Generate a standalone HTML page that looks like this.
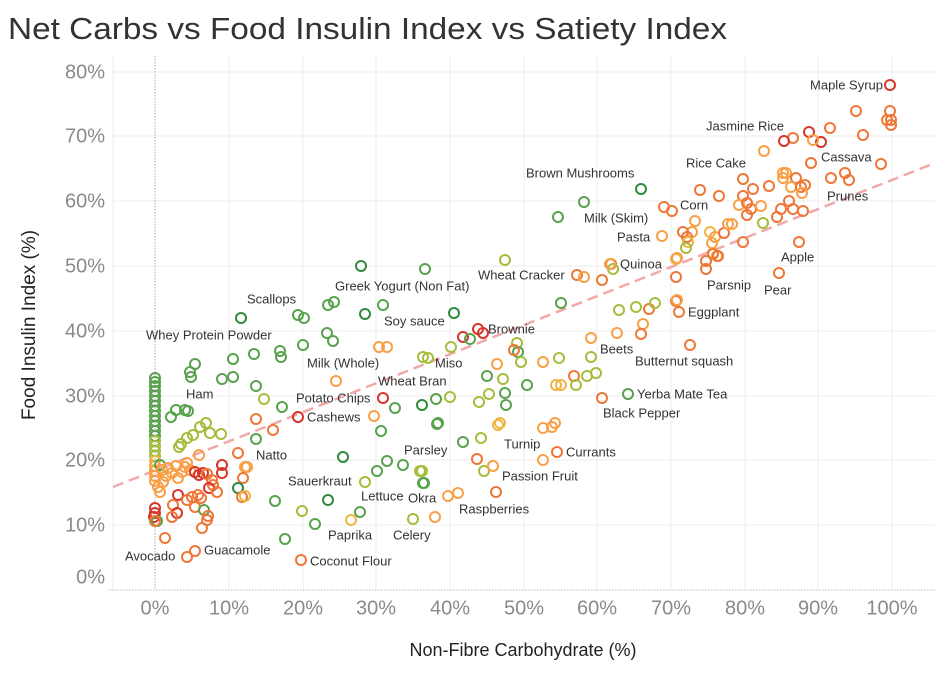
<!DOCTYPE html>
<html><head><meta charset="utf-8"><style>
html,body{margin:0;padding:0;background:#fff;}
svg{display:block;font-family:"Liberation Sans",sans-serif;}
.l{font-size:13px;fill:#333;dominant-baseline:middle}
.G{stroke:#2f8a3c}.g{stroke:#58a24e}.y{stroke:#a5bd3c}.Y{stroke:#f0b540}.o{stroke:#f9a047}.O{stroke:#ef7636}.R{stroke:#d7352b}
circle{fill:none;stroke-width:2}
</style></head><body>
<svg width="940" height="674" viewBox="0 0 940 674">
<text x="8" y="39" font-size="31" fill="#333" textLength="719" lengthAdjust="spacingAndGlyphs">Net Carbs vs Food Insulin Index vs Satiety Index</text>
<g stroke="#ededed" stroke-width="1">
<line x1="229" y1="56" x2="229" y2="590"/><line x1="303" y1="56" x2="303" y2="590"/><line x1="376" y1="56" x2="376" y2="590"/><line x1="450" y1="56" x2="450" y2="590"/><line x1="524" y1="56" x2="524" y2="590"/><line x1="597" y1="56" x2="597" y2="590"/><line x1="671" y1="56" x2="671" y2="590"/><line x1="745" y1="56" x2="745" y2="590"/><line x1="818" y1="56" x2="818" y2="590"/><line x1="892" y1="56" x2="892" y2="590"/>
<line x1="113" y1="72" x2="935" y2="72"/><line x1="113" y1="136" x2="935" y2="136"/><line x1="113" y1="201" x2="935" y2="201"/><line x1="113" y1="266" x2="935" y2="266"/><line x1="113" y1="331" x2="935" y2="331"/><line x1="113" y1="396" x2="935" y2="396"/><line x1="113" y1="460" x2="935" y2="460"/><line x1="113" y1="525" x2="935" y2="525"/>
<line x1="113" y1="56" x2="113" y2="590"/>
</g>
<line x1="155" y1="56" x2="155" y2="590" stroke="#aaa" stroke-dasharray="1.5 1.5"/>
<line x1="108" y1="590" x2="935" y2="590" stroke="#bbb" stroke-dasharray="1.5 1.5"/>
<line x1="113" y1="487" x2="935" y2="163" stroke="#f0a8a8" stroke-width="2.5" stroke-dasharray="11 6"/>
<g font-size="20" fill="#8a8a8a" text-anchor="end" dominant-baseline="middle">
<text x="105" y="73">80%</text><text x="105" y="137">70%</text><text x="105" y="202">60%</text><text x="105" y="267">50%</text><text x="105" y="332">40%</text><text x="105" y="397">30%</text><text x="105" y="461">20%</text><text x="105" y="526">10%</text><text x="105" y="578">0%</text>
</g>
<g font-size="20" fill="#8a8a8a" text-anchor="middle" dominant-baseline="middle">
<text x="155" y="609">0%</text><text x="229" y="609">10%</text><text x="303" y="609">20%</text><text x="376" y="609">30%</text><text x="450" y="609">40%</text><text x="524" y="609">50%</text><text x="597" y="609">60%</text><text x="671" y="609">70%</text><text x="745" y="609">80%</text><text x="818" y="609">90%</text><text x="892" y="609">100%</text>
</g>
<text x="523" y="651" font-size="18" fill="#222" text-anchor="middle" dominant-baseline="middle">Non-Fibre Carbohydrate (%)</text>
<text transform="translate(30,325) rotate(-90)" font-size="19" fill="#222" text-anchor="middle" dominant-baseline="middle">Food Insulin Index (%)</text>
<g>
<circle class="g" cx="155" cy="378" r="5"/><circle class="g" cx="155" cy="382" r="5"/><circle class="g" cx="155" cy="386" r="5"/><circle class="g" cx="155" cy="391" r="5"/><circle class="g" cx="155" cy="396" r="5"/><circle class="g" cx="155" cy="401" r="5"/><circle class="g" cx="155" cy="406" r="5"/><circle class="g" cx="155" cy="411" r="5"/><circle class="g" cx="155" cy="416" r="5"/><circle class="g" cx="155" cy="421" r="5"/><circle class="g" cx="155" cy="426" r="5"/><circle class="g" cx="155" cy="431" r="5"/><circle class="g" cx="155" cy="436" r="5"/><circle class="y" cx="155" cy="441" r="5"/><circle class="y" cx="155" cy="446" r="5"/><circle class="y" cx="155" cy="451" r="5"/><circle class="y" cx="155" cy="456" r="5"/><circle class="Y" cx="155" cy="461" r="5"/><circle class="o" cx="155" cy="466" r="5"/><circle class="o" cx="155" cy="471" r="5"/><circle class="o" cx="155" cy="476" r="5"/><circle class="o" cx="155" cy="481" r="5"/><circle class="R" cx="155" cy="508" r="5"/><circle class="R" cx="155" cy="513" r="5"/><circle class="R" cx="154" cy="517" r="5"/><circle class="g" cx="157" cy="521" r="5"/><circle class="O" cx="155" cy="521" r="5"/>
<circle class="g" cx="160" cy="465" r="5"/><circle class="o" cx="162" cy="470" r="5"/><circle class="o" cx="166" cy="476" r="5"/><circle class="o" cx="163" cy="482" r="5"/><circle class="o" cx="168" cy="468" r="5"/><circle class="o" cx="172" cy="473" r="5"/><circle class="o" cx="176" cy="466" r="5"/><circle class="o" cx="178" cy="478" r="5"/><circle class="o" cx="158" cy="487" r="5"/><circle class="o" cx="160" cy="492" r="5"/><circle class="o" cx="185" cy="467" r="5"/><circle class="o" cx="187" cy="463" r="5"/><circle class="o" cx="199" cy="455" r="5"/><circle class="o" cx="182" cy="472" r="5"/><circle class="o" cx="190" cy="470" r="5"/>
<circle class="g" cx="171" cy="417" r="5"/><circle class="g" cx="176" cy="410" r="5"/><circle class="g" cx="185" cy="410" r="5"/><circle class="g" cx="188" cy="411" r="5"/><circle class="y" cx="200" cy="427" r="5"/><circle class="y" cx="206" cy="423" r="5"/><circle class="y" cx="210" cy="433" r="5"/><circle class="y" cx="221" cy="434" r="5"/><circle class="y" cx="193" cy="435" r="5"/><circle class="y" cx="187" cy="438" r="5"/><circle class="y" cx="179" cy="447" r="5"/><circle class="y" cx="181" cy="444" r="5"/>
<circle class="R" cx="195" cy="472" r="5"/><circle class="R" cx="199" cy="475" r="5"/><circle class="R" cx="203" cy="473" r="5"/><circle class="O" cx="207" cy="474" r="5"/><circle class="R" cx="222" cy="465" r="5"/><circle class="R" cx="222" cy="473" r="5"/><circle class="O" cx="212" cy="480" r="5"/><circle class="O" cx="213" cy="485" r="5"/><circle class="R" cx="209" cy="488" r="5"/><circle class="O" cx="217" cy="492" r="5"/><circle class="O" cx="238" cy="453" r="5"/><circle class="o" cx="245" cy="467" r="5"/><circle class="o" cx="247" cy="467" r="5"/><circle class="O" cx="243" cy="478" r="5"/><circle class="G" cx="238" cy="488" r="5"/><circle class="O" cx="242" cy="497" r="5"/><circle class="Y" cx="245" cy="496" r="5"/>
<circle class="R" cx="178" cy="495" r="5"/><circle class="O" cx="173" cy="505" r="5"/><circle class="R" cx="177" cy="513" r="5"/><circle class="O" cx="172" cy="517" r="5"/><circle class="O" cx="187" cy="500" r="5"/><circle class="O" cx="192" cy="497" r="5"/><circle class="O" cx="198" cy="495" r="5"/><circle class="O" cx="201" cy="498" r="5"/><circle class="O" cx="195" cy="507" r="5"/><circle class="g" cx="204" cy="510" r="5"/><circle class="O" cx="208" cy="516" r="5"/><circle class="O" cx="207" cy="520" r="5"/><circle class="O" cx="202" cy="528" r="5"/><circle class="O" cx="165" cy="538" r="5"/><circle class="O" cx="187" cy="557" r="5"/><circle class="O" cx="195" cy="551" r="5"/>
<circle class="G" cx="241" cy="318" r="5"/><circle class="g" cx="298" cy="315" r="5"/><circle class="g" cx="304" cy="318" r="5"/><circle class="g" cx="328" cy="305" r="5"/><circle class="g" cx="334" cy="302" r="5"/><circle class="G" cx="365" cy="314" r="5"/><circle class="g" cx="383" cy="305" r="5"/><circle class="G" cx="361" cy="266" r="5"/><circle class="g" cx="425" cy="269" r="5"/><circle class="G" cx="454" cy="313" r="5"/><circle class="g" cx="327" cy="333" r="5"/><circle class="g" cx="333" cy="341" r="5"/><circle class="g" cx="303" cy="345" r="5"/>
<circle class="g" cx="254" cy="354" r="5"/><circle class="g" cx="233" cy="359" r="5"/><circle class="g" cx="280" cy="351" r="5"/><circle class="g" cx="281" cy="357" r="5"/><circle class="g" cx="195" cy="364" r="5"/><circle class="g" cx="190" cy="372" r="5"/><circle class="g" cx="191" cy="377" r="5"/><circle class="g" cx="222" cy="379" r="5"/><circle class="g" cx="233" cy="377" r="5"/><circle class="g" cx="256" cy="386" r="5"/><circle class="y" cx="264" cy="399" r="5"/><circle class="g" cx="282" cy="407" r="5"/><circle class="O" cx="256" cy="419" r="5"/><circle class="O" cx="273" cy="430" r="5"/><circle class="g" cx="256" cy="439" r="5"/>
<circle class="o" cx="336" cy="381" r="5"/><circle class="o" cx="379" cy="347" r="5"/><circle class="o" cx="387" cy="347" r="5"/><circle class="y" cx="423" cy="357" r="5"/><circle class="y" cx="428" cy="358" r="5"/><circle class="R" cx="383" cy="398" r="5"/><circle class="R" cx="298" cy="417" r="5"/><circle class="o" cx="374" cy="416" r="5"/><circle class="g" cx="395" cy="408" r="5"/><circle class="G" cx="422" cy="405" r="5"/><circle class="g" cx="436" cy="399" r="5"/><circle class="g" cx="437" cy="424" r="5"/><circle class="g" cx="381" cy="431" r="5"/>
<circle class="G" cx="343" cy="457" r="5"/><circle class="g" cx="387" cy="461" r="5"/><circle class="g" cx="377" cy="471" r="5"/><circle class="g" cx="403" cy="465" r="5"/><circle class="y" cx="420" cy="471" r="5"/><circle class="g" cx="423" cy="483" r="5"/><circle class="y" cx="365" cy="482" r="5"/><circle class="G" cx="328" cy="500" r="5"/><circle class="g" cx="360" cy="512" r="5"/><circle class="Y" cx="351" cy="520" r="5"/><circle class="y" cx="413" cy="519" r="5"/><circle class="o" cx="435" cy="517" r="5"/><circle class="y" cx="302" cy="511" r="5"/><circle class="g" cx="315" cy="524" r="5"/><circle class="g" cx="275" cy="501" r="5"/><circle class="g" cx="285" cy="539" r="5"/><circle class="O" cx="301" cy="560" r="5"/>
<circle class="y" cx="505" cy="260" r="5"/><circle class="O" cx="577" cy="275" r="5"/><circle class="o" cx="584" cy="277" r="5"/><circle class="O" cx="602" cy="280" r="5"/><circle class="O" cx="611" cy="264" r="5"/><circle class="y" cx="613" cy="269" r="5"/><circle class="g" cx="561" cy="303" r="5"/><circle class="y" cx="619" cy="310" r="5"/><circle class="y" cx="636" cy="307" r="5"/><circle class="O" cx="649" cy="309" r="5"/><circle class="y" cx="655" cy="303" r="5"/><circle class="O" cx="676" cy="301" r="5"/><circle class="O" cx="679" cy="312" r="5"/>
<circle class="R" cx="478" cy="329" r="5"/><circle class="R" cx="483" cy="333" r="5"/><circle class="R" cx="463" cy="337" r="5"/><circle class="g" cx="470" cy="339" r="5"/><circle class="y" cx="451" cy="347" r="5"/><circle class="y" cx="517" cy="343" r="5"/><circle class="g" cx="518" cy="352" r="5"/><circle class="O" cx="514" cy="350" r="5"/><circle class="y" cx="521" cy="362" r="5"/><circle class="o" cx="543" cy="362" r="5"/><circle class="y" cx="559" cy="358" r="5"/><circle class="o" cx="591" cy="338" r="5"/><circle class="y" cx="591" cy="357" r="5"/><circle class="o" cx="617" cy="333" r="5"/><circle class="o" cx="643" cy="324" r="5"/><circle class="O" cx="641" cy="334" r="5"/><circle class="O" cx="690" cy="345" r="5"/>
<circle class="o" cx="497" cy="364" r="5"/><circle class="g" cx="487" cy="376" r="5"/><circle class="y" cx="503" cy="379" r="5"/><circle class="g" cx="505" cy="393" r="5"/><circle class="g" cx="506" cy="405" r="5"/><circle class="y" cx="489" cy="394" r="5"/><circle class="y" cx="479" cy="402" r="5"/><circle class="y" cx="450" cy="397" r="5"/><circle class="g" cx="527" cy="385" r="5"/><circle class="O" cx="574" cy="376" r="5"/><circle class="y" cx="587" cy="376" r="5"/><circle class="y" cx="596" cy="373" r="5"/><circle class="Y" cx="556" cy="385" r="5"/><circle class="Y" cx="561" cy="385" r="5"/><circle class="y" cx="576" cy="385" r="5"/><circle class="O" cx="602" cy="398" r="5"/><circle class="g" cx="628" cy="394" r="5"/>
<circle class="g" cx="438" cy="423" r="5"/><circle class="Y" cx="500" cy="423" r="5"/><circle class="Y" cx="498" cy="425" r="5"/><circle class="o" cx="543" cy="428" r="5"/><circle class="o" cx="552" cy="427" r="5"/><circle class="o" cx="555" cy="423" r="5"/><circle class="g" cx="463" cy="442" r="5"/><circle class="y" cx="481" cy="438" r="5"/><circle class="O" cx="477" cy="459" r="5"/><circle class="y" cx="484" cy="471" r="5"/><circle class="o" cx="493" cy="466" r="5"/><circle class="O" cx="557" cy="452" r="5"/><circle class="o" cx="543" cy="460" r="5"/><circle class="o" cx="448" cy="496" r="5"/><circle class="o" cx="458" cy="493" r="5"/><circle class="O" cx="496" cy="492" r="5"/><circle class="y" cx="422" cy="471" r="5"/><circle class="g" cx="424" cy="483" r="5"/>
<circle class="G" cx="641" cy="189" r="5"/><circle class="g" cx="558" cy="217" r="5"/><circle class="g" cx="584" cy="202" r="5"/>
<circle class="R" cx="890" cy="85" r="5"/><circle class="O" cx="856" cy="111" r="5"/><circle class="O" cx="890" cy="111" r="5"/><circle class="O" cx="887" cy="120" r="5"/><circle class="O" cx="891" cy="120" r="5"/><circle class="O" cx="891" cy="125" r="5"/><circle class="O" cx="830" cy="128" r="5"/><circle class="O" cx="863" cy="135" r="5"/><circle class="R" cx="809" cy="132" r="5"/><circle class="R" cx="821" cy="142" r="5"/><circle class="o" cx="813" cy="140" r="5"/><circle class="O" cx="793" cy="138" r="5"/><circle class="R" cx="784" cy="141" r="5"/>
<circle class="o" cx="764" cy="151" r="5"/><circle class="O" cx="811" cy="163" r="5"/><circle class="O" cx="881" cy="164" r="5"/><circle class="O" cx="845" cy="173" r="5"/><circle class="O" cx="849" cy="180" r="5"/><circle class="O" cx="831" cy="178" r="5"/><circle class="O" cx="743" cy="179" r="5"/><circle class="O" cx="700" cy="190" r="5"/><circle class="O" cx="719" cy="196" r="5"/><circle class="O" cx="753" cy="189" r="5"/><circle class="O" cx="769" cy="186" r="5"/><circle class="o" cx="783" cy="173" r="5"/><circle class="o" cx="786" cy="173" r="5"/><circle class="o" cx="783" cy="178" r="5"/><circle class="O" cx="796" cy="178" r="5"/><circle class="o" cx="791" cy="187" r="5"/><circle class="O" cx="801" cy="187" r="5"/><circle class="O" cx="805" cy="185" r="5"/><circle class="o" cx="802" cy="193" r="5"/>
<circle class="O" cx="664" cy="207" r="5"/><circle class="O" cx="672" cy="211" r="5"/><circle class="O" cx="743" cy="196" r="5"/><circle class="o" cx="739" cy="205" r="5"/><circle class="O" cx="747" cy="203" r="5"/><circle class="O" cx="751" cy="209" r="5"/><circle class="O" cx="747" cy="215" r="5"/><circle class="o" cx="761" cy="206" r="5"/><circle class="O" cx="781" cy="209" r="5"/><circle class="O" cx="789" cy="201" r="5"/><circle class="O" cx="793" cy="209" r="5"/><circle class="O" cx="803" cy="211" r="5"/><circle class="O" cx="777" cy="217" r="5"/>
<circle class="o" cx="695" cy="221" r="5"/><circle class="o" cx="692" cy="232" r="5"/><circle class="O" cx="683" cy="232" r="5"/><circle class="O" cx="687" cy="237" r="5"/><circle class="Y" cx="688" cy="242" r="5"/><circle class="y" cx="686" cy="248" r="5"/><circle class="Y" cx="710" cy="232" r="5"/><circle class="o" cx="715" cy="237" r="5"/><circle class="o" cx="712" cy="243" r="5"/><circle class="Y" cx="713" cy="253" r="5"/><circle class="o" cx="717" cy="256" r="5"/><circle class="O" cx="724" cy="233" r="5"/><circle class="o" cx="728" cy="224" r="5"/><circle class="o" cx="732" cy="224" r="5"/><circle class="O" cx="743" cy="242" r="5"/><circle class="y" cx="763" cy="223" r="5"/><circle class="O" cx="799" cy="242" r="5"/><circle class="O" cx="779" cy="273" r="5"/><circle class="o" cx="662" cy="236" r="5"/><circle class="o" cx="610" cy="264" r="5"/><circle class="Y" cx="676" cy="259" r="5"/><circle class="O" cx="706" cy="261" r="5"/><circle class="O" cx="706" cy="269" r="5"/><circle class="O" cx="676" cy="277" r="5"/><circle class="o" cx="677" cy="300" r="5"/><circle class="O" cx="713" cy="254" r="5"/><circle class="O" cx="718" cy="256" r="5"/><circle class="o" cx="677" cy="258" r="5"/>
</g>
<g class="l">
<text x="883" y="86" text-anchor="end" class="l">Maple Syrup</text>
<text x="706" y="127" class="l">Jasmine Rice</text>
<text x="821" y="158" class="l">Cassava</text>
<text x="686" y="164" class="l">Rice Cake</text>
<text x="526" y="174" class="l">Brown Mushrooms</text>
<text x="827" y="197" class="l">Prunes</text>
<text x="680" y="206" class="l">Corn</text>
<text x="584" y="219" class="l">Milk (Skim)</text>
<text x="617" y="238" class="l">Pasta</text>
<text x="781" y="258" class="l">Apple</text>
<text x="478" y="276" class="l">Wheat Cracker</text>
<text x="620" y="265" class="l">Quinoa</text>
<text x="707" y="286" class="l">Parsnip</text>
<text x="335" y="287" class="l">Greek Yogurt (Non Fat)</text>
<text x="764" y="291" class="l">Pear</text>
<text x="247" y="300" class="l">Scallops</text>
<text x="688" y="313" class="l">Eggplant</text>
<text x="384" y="322" class="l">Soy sauce</text>
<text x="488" y="330" class="l">Brownie</text>
<text x="146" y="336" class="l">Whey Protein Powder</text>
<text x="307" y="364" class="l">Milk (Whole)</text>
<text x="435" y="364" class="l">Miso</text>
<text x="635" y="362" class="l">Butternut squash</text>
<text x="600" y="350" class="l">Beets</text>
<text x="186" y="395" class="l">Ham</text>
<text x="296" y="399" class="l">Potato Chips</text>
<text x="378" y="382" class="l">Wheat Bran</text>
<text x="637" y="395" class="l">Yerba Mate Tea</text>
<text x="307" y="418" class="l">Cashews</text>
<text x="603" y="414" class="l">Black Pepper</text>
<text x="504" y="445" class="l">Turnip</text>
<text x="566" y="453" class="l">Currants</text>
<text x="404" y="451" class="l">Parsley</text>
<text x="256" y="456" class="l">Natto</text>
<text x="502" y="477" class="l">Passion Fruit</text>
<text x="288" y="482" class="l">Sauerkraut</text>
<text x="361" y="497" class="l">Lettuce</text>
<text x="408" y="499" class="l">Okra</text>
<text x="459" y="510" class="l">Raspberries</text>
<text x="328" y="536" class="l">Paprika</text>
<text x="393" y="536" class="l">Celery</text>
<text x="204" y="551" class="l">Guacamole</text>
<text x="125" y="557" class="l">Avocado</text>
<text x="310" y="562" class="l">Coconut Flour</text>
</g>
</svg>
</body></html>
